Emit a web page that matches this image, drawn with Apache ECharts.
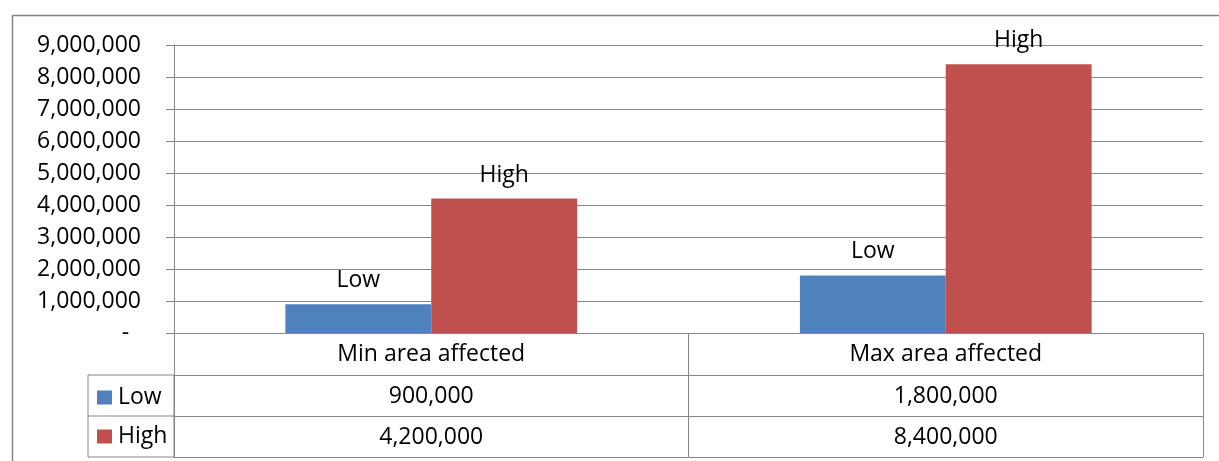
<!DOCTYPE html>
<html>
<head>
<meta charset="utf-8">
<script src="https://cdn.jsdelivr.net/npm/echarts@6/dist/echarts.min.js"></script>
<style>
html,body{margin:0;padding:0;background:#fff;}
#c{width:1219px;height:461px;}
</style>
</head>
<body>
<div id="c"></div>
<script>
const categories = ['Min area affected', 'Max area affected'];
const seriesNames = ['Low', 'High'];
const lowValues = [900000, 1800000];
const highValues = [4200000, 8400000];
const yMin = 0, yMax = 9000000, yStep = 1000000;

function fmt(v) {
  if (v === 0) return '-  ';
  return String(v).replace(/\B(?=(\d{3})+(?!\d))/g, ',');
}

const FONT = 'Open Sans';
const FS = 23;
const GRAY = '#868686';
const BLUE = '#4F81BD';
const RED = '#C0504D';

const chart = echarts.init(document.getElementById('c'), null, {renderer: 'canvas'});

const rowH = 41;
const labelStyle = {color: '#000', fontFamily: FONT, fontSize: FS};

chart.setOption({
  animation: false,
  textStyle: {fontFamily: FONT},
  grid: {left: 174, right: 16, top: 45, bottom: 128, containLabel: false},
  legend: {
    orient: 'vertical',
    left: 97,
    top: 386,
    padding: 0,
    itemWidth: 15,
    itemHeight: 14,
    itemGap: 16,
    icon: 'rect',
    textStyle: Object.assign({padding: [0, 0, 0, 1]}, labelStyle),
    data: seriesNames
  },
  xAxis: [
    {
      type: 'category', data: categories, position: 'bottom', offset: 0,
      axisLine: {show: true, lineStyle: {color: GRAY, width: 1}},
      axisTick: {show: true, interval: 0, alignWithLabel: false, length: rowH * 3 + 1, lineStyle: {color: GRAY}},
      axisLabel: Object.assign({margin: 10, interval: 0}, labelStyle)
    },
    {
      type: 'category', data: lowValues.map(fmt), position: 'bottom', offset: rowH + 1,
      axisLine: {show: true, lineStyle: {color: GRAY}},
      axisTick: {show: false},
      axisLabel: Object.assign({margin: 10, interval: 0}, labelStyle)
    },
    {
      type: 'category', data: highValues.map(fmt), position: 'bottom', offset: rowH * 2 + 1,
      axisLine: {show: true, lineStyle: {color: GRAY}},
      axisTick: {show: false},
      axisLabel: Object.assign({margin: 10, interval: 0}, labelStyle)
    },
    {
      type: 'category', data: categories, position: 'bottom', offset: rowH * 3 + 1,
      axisLine: {show: true, lineStyle: {color: GRAY}},
      axisTick: {show: false},
      axisLabel: {show: false}
    }
  ],
  yAxis: {
    type: 'value', min: yMin, max: yMax, interval: yStep,
    axisLine: {show: true, lineStyle: {color: GRAY}},
    axisTick: {show: true, length: 8, lineStyle: {color: GRAY}},
    splitLine: {show: true, lineStyle: {color: GRAY, width: 1}},
    axisLabel: Object.assign({margin: 33, formatter: fmt}, labelStyle)
  },
  series: [
    {
      name: seriesNames[0], type: 'bar', data: lowValues, xAxisIndex: 0,
      barGap: '0%', barCategoryGap: '43.3%',
      itemStyle: {color: BLUE},
      label: Object.assign({show: true, position: 'top', distance: 12, formatter: '{a}'}, labelStyle)
    },
    {
      name: seriesNames[1], type: 'bar', data: highValues, xAxisIndex: 0,
      barGap: '0%', barCategoryGap: '43.3%',
      itemStyle: {color: RED},
      label: Object.assign({show: true, position: 'top', distance: 12, formatter: '{a}'}, labelStyle)
    }
  ],
  graphic: [
    {type: 'rect', shape: {x: 12.5, y: 15.5, width: 1400, height: 600}, style: {fill: 'none', stroke: GRAY, lineWidth: 1.5}, silent: true},
    {type: 'rect', shape: {x: 88, y: 375, width: 86, height: 82}, style: {fill: 'none', stroke: GRAY, lineWidth: 1}, silent: true},
    {type: 'line', shape: {x1: 88, y1: 416, x2: 174, y2: 416}, style: {stroke: GRAY, lineWidth: 1}, silent: true}
  ]
});
</script>
</body>
</html>
